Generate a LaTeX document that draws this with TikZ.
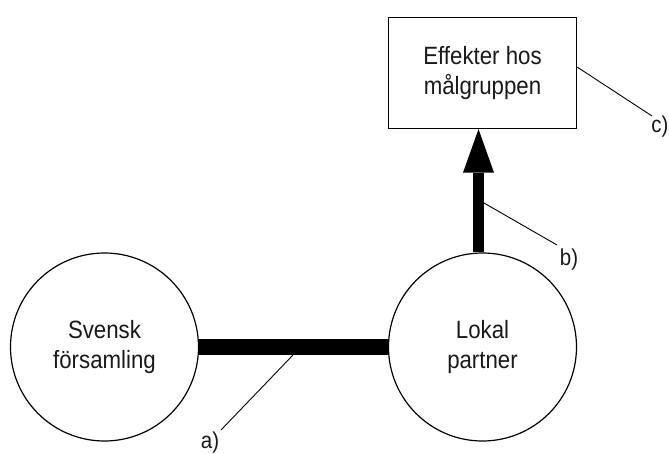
\documentclass[tikz,border=0pt]{standalone}
\usepackage{fontspec}
\setmainfont[FakeStretch=0.89]{Liberation Sans}
\usetikzlibrary{arrows.meta}
\begin{document}
\begin{tikzpicture}[x=1pt,y=-1pt,
  every node/.style={font=\fontsize{25}{29.5}\selectfont, text=black!90},
  circ/.style={draw, circle, line width=1.2pt, minimum size=188pt, inner sep=0pt, align=center},
  boxn/.style={draw, rectangle, line width=1.2pt, minimum width=188pt, minimum height=111pt, inner sep=0pt, align=center},
  lbl/.style={inner sep=0pt, font=\fontsize{23}{27}\selectfont},
  leader/.style={line width=0.9pt}
]
\useasboundingbox (0,0) rectangle (669,454);
\node[circ] (sv) at (104.5,347) {Svensk\\församling};
\node[circ] (lp) at (482.5,347) {Lokal\\partner};
\node[boxn] (eff) at (482.5,73) {Effekter hos\\målgruppen};
\coordinate (ax) at (478.5,0);
\draw[line width=16pt] (sv.east) -- (lp.west);
\draw[line width=11pt, -{Triangle[length=43.5pt,width=31pt,line width=0pt]}] (lp.north -| ax) -- (eff.south -| ax);
% labels
\node[lbl] (la) at (210,442.5) {a)};
\node[lbl] (lb) at (569,260) {b)};
\node[lbl] (lc) at (660,127) {c)};
\coordinate (pa) at (293,355);
\coordinate (ea) at (221,430);
\coordinate (pb) at (484,203);
\coordinate (eb) at (557,245);
\coordinate (pc) at (eff.east |- 0,67);
\coordinate (ec) at (652,116);
\draw[leader] (pa) -- (ea);
\draw[leader] (pb) -- (eb);
\draw[leader] (pc) -- (ec);
\end{tikzpicture}
\end{document}
